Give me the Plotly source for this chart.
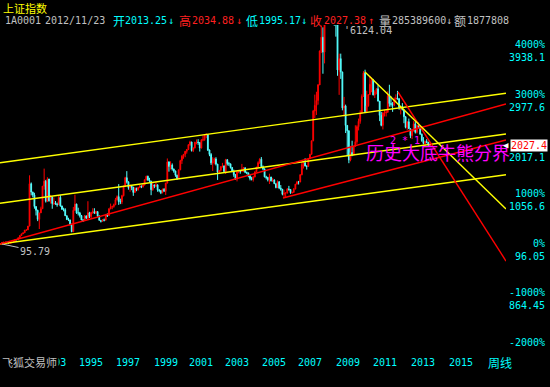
import plotly.graph_objects as go

W, H = 550, 387

# ---------------- data: monthly bars, Dec 1990 .. Nov 2012 ----------------
START_YEAR, START_MONTH = 1990, 12
FIRST_OPEN = 96.05

CLOSE = [
    127.61,
    129.97, 133.05, 120.19, 113.94, 114.83, 137.56, 145.82, 180.92, 180.16, 218.60, 259.60, 292.75,
    313.24, 364.60, 370.53, 443.10, 1265.8, 1104.0, 1048.0, 823.0, 751.0, 574.0, 700.0, 780.39,
    1219.0, 1315.0, 925.0, 1358.0, 933.0, 1007.0, 880.0, 888.0, 873.0, 860.0, 1000.0, 833.80,
    770.0, 760.0, 644.0, 571.0, 561.0, 467.0, 333.9, 750.0, 870.0, 700.0, 700.0, 647.87,
    563.0, 549.0, 643.0, 600.0, 701.0, 630.0, 709.0, 724.0, 694.0, 725.0, 640.0, 555.29,
    537.0, 563.0, 558.0, 662.0, 645.0, 779.0, 815.0, 823.0, 859.0, 956.0, 1015.0, 917.0,
    914.0, 1033.0, 1214.0, 1382.0, 1302.0, 1191.0, 1220.0, 1200.0, 1097.0, 1174.0, 1151.0, 1194.0,
    1222.0, 1206.0, 1243.0, 1342.0, 1411.0, 1339.0, 1316.0, 1150.0, 1242.0, 1217.0, 1245.0, 1146.7,
    1134.0, 1090.0, 1158.0, 1120.0, 1279.0, 1689.0, 1601.0, 1627.0, 1550.0, 1513.0, 1431.0, 1366.6,
    1535.0, 1714.0, 1800.0, 1836.0, 1894.0, 1928.0, 2023.0, 2076.0, 1910.0, 1961.0, 2070.0, 2073.5,
    2065.0, 1959.0, 2112.0, 2119.0, 2214.0, 2218.0, 1920.0, 1834.0, 1669.0, 1689.0, 1747.0, 1646.0,
    1491.0, 1525.0, 1594.0, 1611.0, 1504.0, 1732.0, 1656.0, 1652.0, 1581.0, 1508.0, 1441.0, 1357.7,
    1499.0, 1511.0, 1510.0, 1521.0, 1576.0, 1487.0, 1476.0, 1421.0, 1367.0, 1348.0, 1397.0, 1497.0,
    1590.0, 1675.0, 1741.0, 1595.0, 1555.0, 1399.0, 1386.0, 1342.0, 1396.0, 1320.0, 1340.0, 1266.5,
    1191.0, 1306.0, 1181.0, 1159.0, 1060.0, 1080.0, 1083.0, 1162.0, 1155.0, 1092.0, 1099.0, 1161.1,
    1258.0, 1299.0, 1298.0, 1440.0, 1641.0, 1672.0, 1612.0, 1601.0, 1752.0, 1837.0, 2099.0, 2675.5,
    2786.0, 2881.0, 3183.0, 3841.0, 4109.0, 3820.0, 4471.0, 5218.0, 5552.0, 5954.0, 4871.0, 5261.6,
    4383.0, 4348.0, 3473.0, 3693.0, 3433.0, 2736.0, 2775.0, 2397.0, 2293.0, 1728.0, 1871.0, 1820.8,
    1991.0, 2082.0, 2373.0, 2477.0, 2632.0, 2959.0, 3412.0, 2667.0, 2779.0, 2995.0, 3195.0, 3277.1,
    2989.0, 3051.0, 3109.0, 2870.0, 2592.0, 2398.0, 2637.0, 2638.0, 2655.0, 2978.0, 2820.0, 2808.1,
    2790.0, 2905.0, 2928.0, 2911.0, 2743.0, 2762.0, 2701.0, 2567.0, 2359.0, 2468.0, 2333.0, 2199.4,
    2292.0, 2428.0, 2263.0, 2396.0, 2373.0, 2225.0, 2103.0, 2047.0, 2086.0, 2069.0, 2027.38,
]
HIGH = [
    127.61,
    135.0, 134.9, 134.8, 120.5, 114.9, 137.6, 145.9, 181.0, 181.0, 218.6, 260.0, 292.8,
    313.3, 365.0, 371.0, 443.1, 1429.0, 1290.0, 1110.0, 1090.0, 830.0, 760.0, 700.0, 820.0,
    1220.0, 1559.0, 1340.0, 1392.0, 1360.0, 1050.0, 1010.0, 1000.0, 930.0, 900.0, 1040.0, 1044.0,
    840.0, 800.0, 790.0, 650.0, 605.0, 570.0, 490.0, 816.0, 1053.0, 880.0, 800.0, 720.0,
    660.0, 580.0, 660.0, 645.0, 926.0, 720.0, 720.0, 790.0, 790.0, 740.0, 730.0, 650.0,
    560.0, 580.0, 590.0, 680.0, 690.0, 790.0, 880.0, 840.0, 880.0, 990.0, 1040.0, 1258.0,
    975.0, 1050.0, 1230.0, 1400.0, 1510.0, 1310.0, 1250.0, 1230.0, 1200.0, 1200.0, 1190.0, 1200.0,
    1240.0, 1230.0, 1260.0, 1350.0, 1420.0, 1422.0, 1380.0, 1320.0, 1280.0, 1250.0, 1300.0, 1250.0,
    1160.0, 1140.0, 1170.0, 1180.0, 1280.0, 1756.0, 1700.0, 1700.0, 1660.0, 1560.0, 1520.0, 1440.0,
    1540.0, 1730.0, 1820.0, 1840.0, 1900.0, 1940.0, 2030.0, 2100.0, 2080.0, 1970.0, 2080.0, 2125.0,
    2130.0, 2070.0, 2130.0, 2200.0, 2230.0, 2245.0, 2220.0, 1930.0, 1860.0, 1780.0, 1770.0, 1780.0,
    1650.0, 1530.0, 1610.0, 1670.0, 1620.0, 1748.0, 1740.0, 1690.0, 1650.0, 1590.0, 1540.0, 1450.0,
    1500.0, 1520.0, 1530.0, 1650.0, 1590.0, 1580.0, 1500.0, 1480.0, 1430.0, 1400.0, 1420.0, 1500.0,
    1590.0, 1700.0, 1760.0, 1783.0, 1620.0, 1560.0, 1420.0, 1400.0, 1460.0, 1400.0, 1380.0, 1350.0,
    1270.0, 1330.0, 1310.0, 1240.0, 1160.0, 1150.0, 1100.0, 1180.0, 1224.0, 1160.0, 1110.0, 1180.0,
    1260.0, 1320.0, 1320.0, 1450.0, 1690.0, 1700.0, 1760.0, 1620.0, 1760.0, 1840.0, 2100.0, 2698.0,
    2995.0, 3050.0, 3200.0, 3850.0, 4335.0, 4300.0, 4470.0, 5220.0, 5560.0, 6124.04, 5900.0, 5300.0,
    5500.0, 4700.0, 4470.0, 3790.0, 3790.0, 3440.0, 2950.0, 2800.0, 2390.0, 2300.0, 2000.0, 2100.0,
    2000.0, 2400.0, 2400.0, 2530.0, 2690.0, 3000.0, 3450.0, 3478.0, 3070.0, 3000.0, 3360.0, 3330.0,
    3300.0, 3080.0, 3120.0, 3180.0, 2870.0, 2660.0, 2660.0, 2700.0, 2700.0, 3060.0, 3186.0, 2960.0,
    2850.0, 2940.0, 3000.0, 3067.0, 2930.0, 2770.0, 2830.0, 2700.0, 2540.0, 2470.0, 2530.0, 2340.0,
    2300.0, 2480.0, 2478.0, 2400.0, 2450.0, 2370.0, 2240.0, 2170.0, 2100.0, 2130.0, 2080.0,
]
LOW = [
    95.79,
    127.0, 129.0, 120.0, 113.9, 104.96, 114.8, 136.0, 145.0, 170.0, 180.0, 218.0, 259.0,
    292.0, 313.0, 353.0, 370.0, 443.0, 1040.0, 1000.0, 781.0, 650.0, 540.0, 387.0, 700.0,
    780.0, 1150.0, 900.0, 910.0, 920.0, 880.0, 780.0, 850.0, 860.0, 820.0, 855.0, 820.0,
    757.0, 730.0, 640.0, 560.0, 540.0, 460.0, 326.0, 333.0, 740.0, 680.0, 650.0, 610.0,
    560.0, 524.0, 545.0, 580.0, 560.0, 600.0, 590.0, 680.0, 680.0, 680.0, 620.0, 550.0,
    513.0, 530.0, 535.0, 555.0, 620.0, 640.0, 770.0, 770.0, 800.0, 850.0, 940.0, 855.0,
    870.0, 870.0, 1020.0, 1200.0, 1270.0, 1150.0, 1110.0, 1140.0, 1030.0, 1090.0, 1120.0, 1130.0,
    1180.0, 1180.0, 1190.0, 1230.0, 1330.0, 1320.0, 1290.0, 1043.0, 1130.0, 1180.0, 1200.0, 1110.0,
    1100.0, 1064.0, 1080.0, 1110.0, 1048.0, 1270.0, 1500.0, 1540.0, 1520.0, 1480.0, 1400.0, 1341.0,
    1360.0, 1530.0, 1650.0, 1750.0, 1780.0, 1850.0, 1920.0, 2000.0, 1890.0, 1880.0, 1950.0, 2030.0,
    2020.0, 1890.0, 1950.0, 2090.0, 2100.0, 2150.0, 1900.0, 1800.0, 1630.0, 1514.0, 1640.0, 1620.0,
    1339.0, 1460.0, 1500.0, 1580.0, 1480.0, 1455.0, 1620.0, 1610.0, 1560.0, 1490.0, 1400.0, 1340.0,
    1311.0, 1470.0, 1460.0, 1490.0, 1490.0, 1470.0, 1450.0, 1390.0, 1330.0, 1330.0, 1307.0, 1390.0,
    1490.0, 1580.0, 1650.0, 1580.0, 1530.0, 1390.0, 1350.0, 1310.0, 1260.0, 1310.0, 1300.0, 1259.0,
    1177.0, 1180.0, 1160.0, 1130.0, 1040.0, 998.0, 1004.0, 1080.0, 1130.0, 1070.0, 1074.0, 1090.0,
    1160.0, 1250.0, 1250.0, 1300.0, 1430.0, 1560.0, 1600.0, 1540.0, 1600.0, 1740.0, 1830.0, 2090.0,
    2540.0, 2600.0, 2800.0, 3180.0, 3800.0, 3400.0, 3600.0, 4450.0, 5000.0, 5400.0, 4780.0, 4800.0,
    4330.0, 4120.0, 3360.0, 2990.0, 3300.0, 2690.0, 2570.0, 2250.0, 1800.0, 1664.0, 1700.0, 1800.0,
    1820.0, 1990.0, 2040.0, 2300.0, 2430.0, 2630.0, 2950.0, 2640.0, 2640.0, 2760.0, 2990.0, 3040.0,
    2980.0, 2930.0, 3000.0, 2860.0, 2480.0, 2380.0, 2319.0, 2570.0, 2570.0, 2640.0, 2760.0, 2760.0,
    2660.0, 2770.0, 2860.0, 2900.0, 2700.0, 2610.0, 2690.0, 2440.0, 2340.0, 2307.0, 2330.0, 2150.0,
    2132.0, 2280.0, 2240.0, 2240.0, 2340.0, 2220.0, 2080.0, 2030.0, 2000.0, 2050.0, 1995.17,
]

# trend lines drawn on the chart: (year, index value) anchor pairs
YELLOW_CHANNEL_TOP = [(1990.855, 1673.6), (2016.871, 3020.3)]
YELLOW_CHANNEL_MID = [(1990.855, 885.8), (2016.871, 2230.5)]
YELLOW_CHANNEL_BOT = [(1990.855, 96.05), (2016.871, 1440.8)]
RED_UP_LINE = [(1990.855, 96.05), (2016.871, 2812.7)]
RED_UP_LINE_2005 = [(2005.405, 988.7), (2016.871, 2114.1)]
RED_DOWN_LINE = [(2011.318, 3045.5), (2016.871, -233.8)]
YELLOW_DOWN_LINE = [(2009.621, 3433.6), (2016.871, 775.2)]

# axis labels
YEAR_LABELS = ["1993", "1995", "1997", "1999", "2001", "2003", "2005",
               "2007", "2009", "2011", "2013", "2015"]
YEAR_LABEL_POS = [1993.64, 1995.53, 1997.44, 1999.39, 2001.19, 2003.04, 2004.94,
                  2006.79, 2008.75, 2010.65, 2012.60, 2014.56]
BASE_PRICE = 96.05
PCT_TICKS = [4000, 3000, 2000, 1000, 0, -1000, -2000]
PRICE_TICK_LABELS = ["3938.1", "2977.6", "2017.1", "1056.6", "96.05", "864.45", ""]

HEADER_TITLE = "上证指数"
HEADER_ITEMS = [  # (text, left px, colour)
    ("1A0001", 3, "#c0c0c0"), ("2012/11/23", 43, "#c0c0c0"),
    ("开", 111, "#00ffff"), ("2013.25", 123, "#00ffff"), ("↓", 166, "#00ffff"),
    ("高", 177, "#ff2020"), ("2034.88", 190, "#ff2020"), ("↓", 234, "#ff2020"),
    ("低", 244, "#00ffff"), ("1995.17", 257, "#00ffff"), ("↓", 299, "#00ffff"),
    ("收", 308, "#ff2020"), ("2027.38", 322, "#ff2020"), ("↑", 366, "#ff2020"),
    ("量", 377, "#c0c0c0"), ("285389600", 390, "#c0c0c0"), ("↓", 444, "#c0c0c0"),
    ("额", 452, "#c0c0c0"), ("1877808", 465, "#c0c0c0"),
]

# ---------------- geometry ----------------
X_RANGE = [1990.855, 2016.871]
Y_RANGE = [-2057.8, 4345.6]
PLOT_RIGHT = 506
PLOT_TOP, PLOT_BOTTOM = 25, 355

MONO = "DejaVu Sans Mono"
CJK = "Noto Sans CJK SC"
CYAN = "#00ffff"
GRAY = "#c0c0c0"


def px(x):
    return x / W


def py(y):
    return 1 - y / H


n = len(CLOSE)
t = [START_YEAR + (START_MONTH - 1 + i + 0.5) / 12 for i in range(n)]
opens = [FIRST_OPEN] + CLOSE[:-1]

fig = go.Figure()
fig.add_trace(go.Candlestick(
    x=t, open=opens, high=HIGH, low=LOW, close=CLOSE,
    increasing=dict(line=dict(color="#ff0000", width=1), fillcolor="#ff0000"),
    decreasing=dict(line=dict(color="#54ffff", width=1), fillcolor="#54ffff"),
    whiskerwidth=0, hoverinfo="skip",
))

for pts, col in [(YELLOW_CHANNEL_TOP, "#ffff00"), (YELLOW_CHANNEL_MID, "#ffff00"),
                 (YELLOW_CHANNEL_BOT, "#ffff00"), (RED_UP_LINE, "#ff0000"),
                 (RED_UP_LINE_2005, "#ff0000"), (RED_DOWN_LINE, "#ff0000"),
                 (YELLOW_DOWN_LINE, "#ffff00")]:
    fig.add_trace(go.Scatter(x=[p[0] for p in pts], y=[p[1] for p in pts],
                             mode="lines", line=dict(color=col, width=1.4),
                             hoverinfo="skip"))

ann = []
# header
ann.append(dict(text=HEADER_TITLE, x=px(1), y=py(8), xref="paper", yref="paper",
                xanchor="left", yanchor="middle", showarrow=False,
                font=dict(family=CJK, size=11, color="#ffff00")))
for txt, xl, col in HEADER_ITEMS:
    cjk = not txt[0].isascii() and txt not in ("↓", "↑")
    ann.append(dict(text=txt, x=px(xl), y=py(21), xref="paper", yref="paper",
                    xanchor="left", yanchor="middle", showarrow=False,
                    font=dict(family=CJK if cjk else MONO, size=12 if cjk else 10, color=col)))

# right-hand percent / price scale
for pct, lab in zip(PCT_TICKS, PRICE_TICK_LABELS):
    val = BASE_PRICE * (1 + pct / 100)
    ann.append(dict(text=f"{pct}%", x=px(547), y=val, xref="paper", yref="y",
                    xanchor="right", yanchor="middle", yshift=1, showarrow=False,
                    font=dict(family=MONO, size=10, color=CYAN)))
    if lab:
        ann.append(dict(text=lab, x=px(547), y=val, xref="paper", yref="y",
                        xanchor="right", yanchor="middle", yshift=-12, showarrow=False,
                        font=dict(family=MONO, size=10, color=CYAN)))

# extreme labels
ann.append(dict(text="95.79", x=t[0], y=LOW[0], xref="x", yref="y", showarrow=True,
                arrowhead=0, arrowwidth=1, arrowcolor=GRAY, ax=33, ay=7, standoff=0,
                font=dict(family=MONO, size=10, color=GRAY)))
ann.append(dict(text="'" + f"{max(HIGH):.2f}", x=px(342), y=py(31), xref="paper", yref="paper",
                xanchor="left", yanchor="middle", showarrow=False,
                font=dict(family=MONO, size=10, color=GRAY)))

# magenta annotation text
ann.append(dict(text="2 * 1", x=px(388), y=py(140), xref="paper", yref="paper",
                xanchor="left", yanchor="middle", showarrow=False,
                font=dict(family=MONO, size=10, color="#ff00ff")))
ann.append(dict(text="历史大底牛熊分界", x=px(364), y=py(152), xref="paper", yref="paper",
                xanchor="left", yanchor="middle", showarrow=False,
                font=dict(family=CJK, size=18, color="#ff00ff")))

# current price tag
ann.append(dict(text="◀", x=px(511), y=CLOSE[-1], xref="paper", yref="y",
                xanchor="right", yanchor="middle", yshift=-1, showarrow=False,
                font=dict(family=MONO, size=9, color="#ffffff")))
ann.append(dict(text=f"{CLOSE[-1]:.1f}", x=px(510), y=CLOSE[-1], xref="paper", yref="y",
                xanchor="left", yanchor="middle", yshift=-1, showarrow=False,
                bgcolor="#ffffff", borderpad=0,
                font=dict(family=MONO, size=10, color="#ff0000")))

# bottom row
ann.append(dict(text="飞狐交易师", x=px(0), y=py(362), xref="paper", yref="paper",
                xanchor="left", yanchor="middle", showarrow=False, bgcolor="#000000",
                font=dict(family=CJK, size=11, color=GRAY)))
ann.append(dict(text="周线", x=px(500), y=py(362), xref="paper", yref="paper",
                xanchor="center", yanchor="middle", showarrow=False,
                font=dict(family=CJK, size=12, color=CYAN)))

fig.update_layout(
    width=W, height=H, margin=dict(l=0, r=0, t=0, b=0),
    paper_bgcolor="#000000", plot_bgcolor="#000000", showlegend=False,
    annotations=ann,
    xaxis=dict(domain=[0, PLOT_RIGHT / W], range=X_RANGE, rangeslider=dict(visible=False),
               showgrid=False, zeroline=False, showline=False, ticks="",
               tickmode="array", tickvals=YEAR_LABEL_POS, ticktext=YEAR_LABELS,
               tickfont=dict(family=MONO, size=10, color=CYAN)),
    yaxis=dict(domain=[py(PLOT_BOTTOM), py(PLOT_TOP)], range=Y_RANGE,
               showgrid=False, zeroline=False, showline=False, showticklabels=False,
               ticks=""),
)

fig.write_html("out.html")
